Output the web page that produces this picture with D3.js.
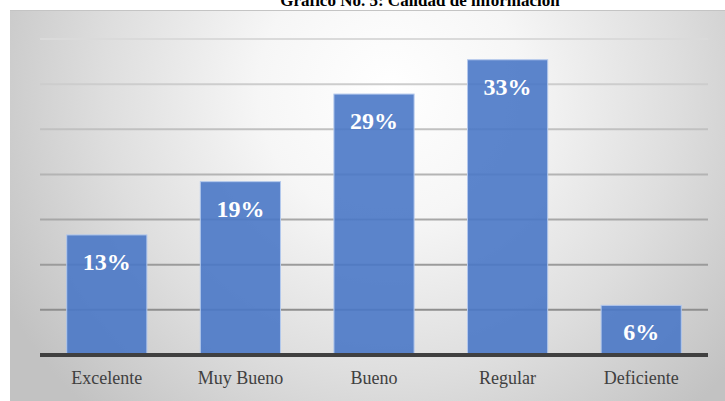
<!DOCTYPE html>
<html><head><meta charset="utf-8">
<script src="https://cdn.jsdelivr.net/npm/d3@7"></script>
<style>html,body{margin:0;padding:0;background:#fff;overflow:hidden}
svg text{font-family:"Liberation Serif","DejaVu Serif","Times New Roman",serif}</style>
</head><body>
<svg id="c" width="725" height="401"></svg>
<script>
const categories = ["Excelente", "Muy Bueno", "Bueno", "Regular", "Deficiente"];
const values = [13.3, 19.2, 28.9, 32.7, 5.5];
const yTicks = [0, 5, 10, 15, 20, 25, 30, 35];
const title = "Gráfico No. 5: Calidad de información";

const svg = d3.select("#c");
const defs = svg.append("defs");
const rg = defs.append("radialGradient").attr("id","bg")
  .attr("gradientUnits","userSpaceOnUse")
  .attr("cx",390).attr("cy",90).attr("r",440);
rg.append("stop").attr("offset","0%").attr("stop-color","#ffffff");
rg.append("stop").attr("offset","30%").attr("stop-color","#f6f6f6");
rg.append("stop").attr("offset","65%").attr("stop-color","#dedede");
rg.append("stop").attr("offset","100%").attr("stop-color","#c2c2c2");

svg.append("rect").attr("x",10).attr("y",10).attr("width",720).attr("height",395)
  .attr("fill","url(#bg)");
svg.append("line").attr("x1",10).attr("x2",725).attr("y1",10.5).attr("y2",10.5)
  .attr("stroke","#c4c4c4").attr("stroke-width",1);

svg.append("text").attr("x",420).attr("y",6)
  .attr("text-anchor","middle")
  .attr("font-weight","bold").attr("font-size",17).attr("fill","#000")
  .text(title);

const x = d3.scaleBand().domain(categories).range([40,708]).paddingInner(0.4).paddingOuter(0.2);
const y = d3.scaleLinear().domain([0,35]).range([355,39]);

const gridColor = d3.scaleLinear().domain([35,5]).range(["#dadada","#8e8e8e"]);
svg.append("g").selectAll("line").data(yTicks.filter(t=>t>0)).join("line")
  .attr("x1",40).attr("x2",708)
  .attr("y1",d=>y(d)).attr("y2",d=>y(d))
  .attr("stroke",d=>gridColor(d)).attr("stroke-width",2);

svg.append("g").selectAll("rect").data(values).join("rect")
  .attr("x",(d,i)=>x(categories[i]))
  .attr("width",x.bandwidth())
  .attr("y",d=>y(d))
  .attr("height",d=>y(0)-y(d))
  .attr("fill","#4a78c6").attr("fill-opacity",0.9)
  .attr("stroke","#b3c8ec").attr("stroke-width",1);

svg.append("g").selectAll("text").data(values).join("text")
  .attr("x",(d,i)=>x(categories[i])+x.bandwidth()/2)
  .attr("y",d=>y(d)+35)
  .attr("text-anchor","middle")
  .attr("font-weight","bold").attr("font-size",24).attr("fill","#fff")
  .text(d=>Math.round(d)+"%");

svg.append("line").attr("x1",40).attr("x2",708).attr("y1",y(0)).attr("y2",y(0))
  .attr("stroke","#404040").attr("stroke-width",4);

const xAxis = svg.append("g").attr("transform",`translate(0,${y(0)})`)
  .call(d3.axisBottom(x).tickSize(0).tickPadding(0));
xAxis.select(".domain").remove();
xAxis.attr("font-family",null);
xAxis.selectAll("text")
  .attr("y",29).attr("dy",0)
  .attr("font-size",18).attr("fill","#404040");
</script>
</body></html>
